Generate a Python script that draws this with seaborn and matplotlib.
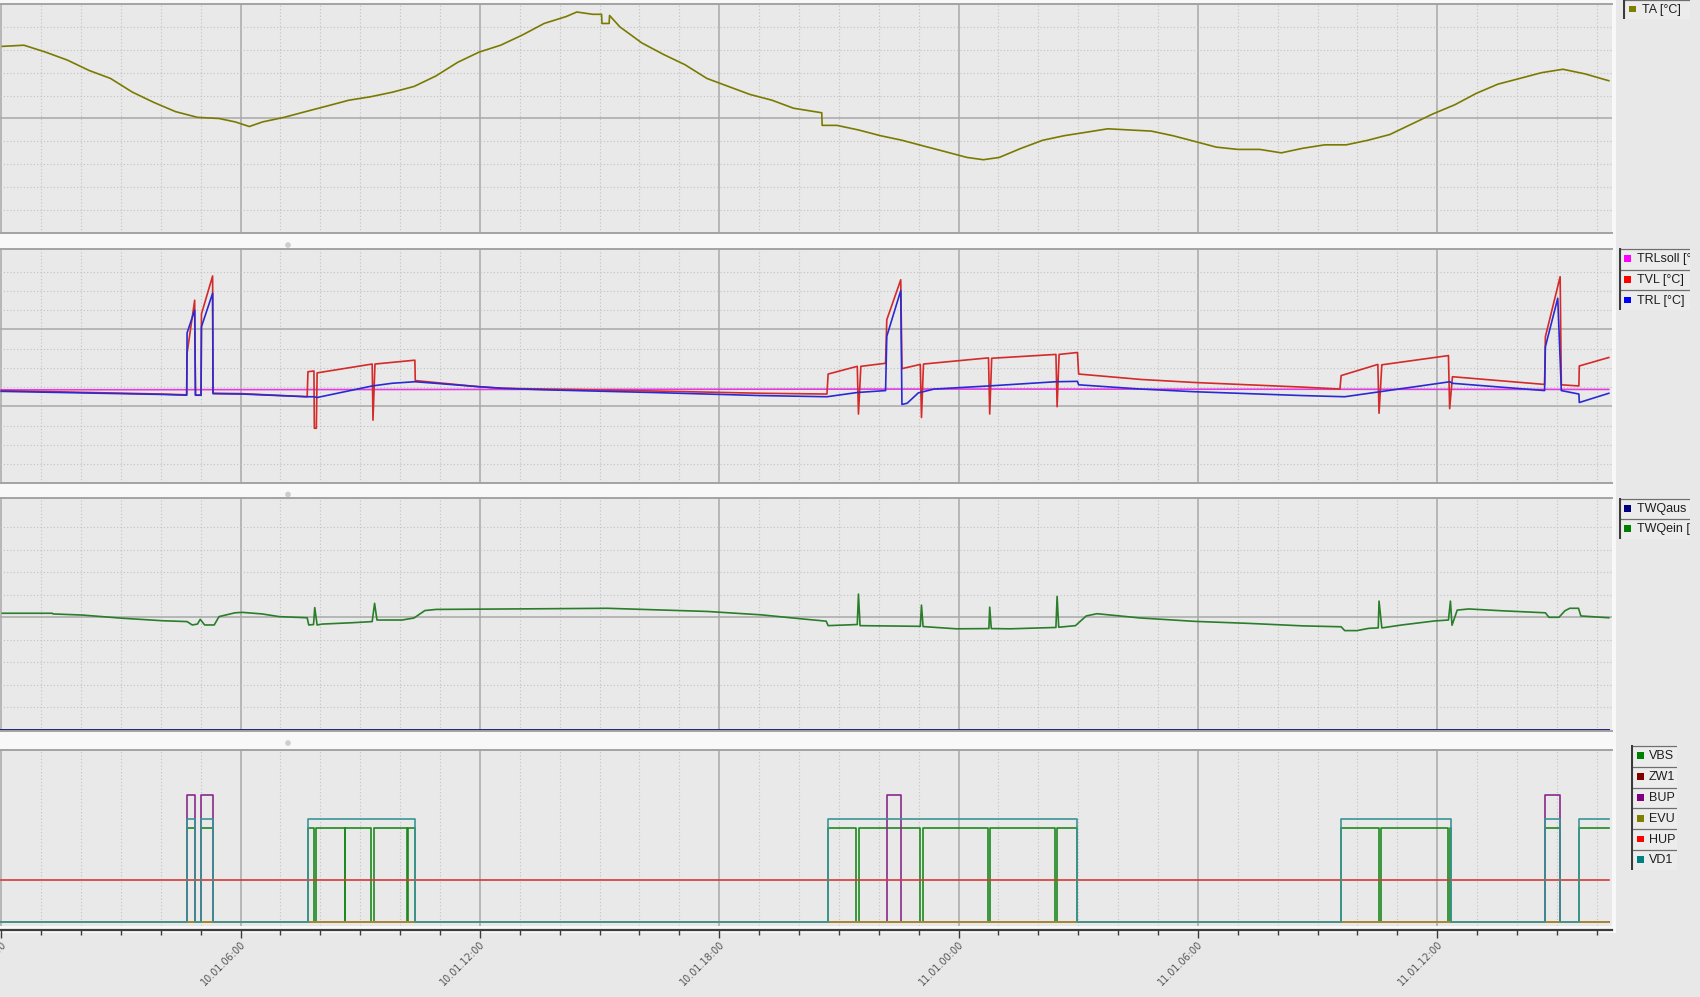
import numpy as np
import pandas as pd
import matplotlib
matplotlib.use("Agg")
import matplotlib.pyplot as plt
import seaborn as sns
from matplotlib.patches import Rectangle, Circle
from matplotlib.ticker import MultipleLocator, FixedLocator, NullFormatter

W, H = 1700, 997

# ---------------- data (time in hours since 10.01 00:00) ----------------
tick_hours = [0, 6, 12, 18, 24, 30, 36]
tick_labels = ["10.01.00:00", "10.01.06:00", "10.01.12:00", "10.01.18:00",
               "11.01.00:00", "11.01.06:00", "11.01.12:00"]

# Panel 1: outdoor temperature
ta_t = [0.03, 0.57, 1.11, 1.66, 2.20, 2.74, 3.29, 3.83, 4.37, 4.92, 5.46, 5.87, 6.22, 6.55,
        7.09, 7.63, 8.18, 8.72, 9.26, 9.81, 10.35, 10.89, 11.44, 11.98, 12.52, 13.07, 13.61,
        14.16, 14.43, 14.83, 15.05, 15.06, 15.24, 15.25, 15.51, 16.06, 16.60, 17.14, 17.69,
        18.23, 18.77, 19.32, 19.86, 20.57, 20.58, 20.95, 21.49, 22.04, 22.58, 23.12, 23.67,
        24.21, 24.62, 25.02, 25.57, 26.11, 26.65, 27.20, 27.74, 28.28, 28.83, 29.37, 29.92,
        30.46, 31.00, 31.55, 32.09, 32.63, 33.18, 33.72, 34.26, 34.81, 35.35, 35.89, 36.44,
        36.98, 37.52, 38.07, 38.61, 39.15, 39.70, 40.30]
ta_v = [6.3, 6.4, 5.8, 5.1, 4.2, 3.5, 2.3, 1.4, 0.6, 0.1, 0.0, -0.3, -0.7, -0.3,
        0.1, 0.6, 1.1, 1.6, 1.9, 2.3, 2.8, 3.7, 4.9, 5.8, 6.4, 7.3, 8.3,
        8.9, 9.3, 9.1, 9.1, 8.3, 8.3, 9.0, 8.0, 6.6, 5.6, 4.7, 3.5,
        2.8, 2.1, 1.6, 0.9, 0.5, -0.6, -0.6, -1.0, -1.5, -1.9, -2.4, -2.9,
        -3.4, -3.6, -3.4, -2.6, -1.9, -1.5, -1.2, -0.9, -1.0, -1.1, -1.5, -2.0,
        -2.5, -2.7, -2.7, -3.0, -2.6, -2.3, -2.3, -1.9, -1.4, -0.5, 0.4, 1.2,
        2.2, 3.0, 3.5, 4.0, 4.3, 3.9, 3.3]

# Panel 2: heating circuit temperatures
trlsoll_t = [0.0, 12.0, 24.0, 40.30]
trlsoll_v = [24.3, 24.4, 24.5, 24.4]

tvl_t = [0.0, 4.03, 4.65, 4.66, 4.85, 4.87, 5.01, 5.02, 5.30, 5.31, 6.04, 7.67,
         7.69, 7.84, 7.85, 7.90, 7.92, 9.30, 9.32, 9.37, 10.37, 10.38, 10.88, 11.98, 12.56,
         13.61, 16.33, 19.05, 20.70,
         20.73, 21.46, 21.49, 21.55, 22.17, 22.20, 22.55, 22.58, 23.04, 23.07, 23.12, 24.75,
         24.78, 24.83, 26.44, 26.47, 26.52, 26.98, 27.01, 28.56, 29.92, 31.27, 32.63, 33.56,
         33.59, 34.51, 34.54, 34.61, 36.28, 36.31, 36.38, 38.69, 38.71, 39.08, 39.11, 39.55,
         39.56, 40.30]
tvl_v = [24.1, 23.2, 23.0, 33.8, 47.6, 22.9, 22.9, 44.0, 53.9, 23.4, 23.3, 22.5,
         29.0, 29.2, 14.3, 14.3, 28.7, 31.0, 16.4, 31.0, 32.0, 26.7, 26.2, 25.1, 24.7,
         24.5, 24.0, 23.4, 23.2,
         28.4, 30.4, 18.0, 30.4, 31.2, 42.5, 52.9, 29.8, 30.9, 17.1, 31.0, 32.6,
         18.0, 32.5, 33.5, 19.9, 33.5, 34.0, 28.4, 27.0, 26.2, 25.6, 25.0, 24.5,
         28.0, 30.9, 18.2, 30.8, 33.2, 19.4, 27.7, 25.7, 38.1, 53.7, 25.6, 25.3,
         30.5, 32.7]

trl_t = [0.0, 4.03, 4.65, 4.66, 4.85, 4.87, 5.01, 5.02, 5.30, 5.31, 6.04, 7.67, 7.84, 7.92,
         9.30, 9.80, 10.37, 10.88, 11.98, 12.56, 13.61, 16.33, 19.05, 20.70, 21.46, 22.17,
         22.20, 22.55, 22.58, 22.71, 22.99, 23.39, 24.75, 26.44, 26.98, 27.01, 28.56, 29.92,
         32.63, 33.68, 36.32, 36.37, 38.69, 38.71, 39.02, 39.11, 39.55, 39.56, 40.30]
trl_v = [23.9, 23.1, 22.9, 39.1, 45.0, 22.9, 22.9, 40.7, 49.4, 23.3, 23.2, 22.5, 22.5, 22.3,
         25.3, 26.0, 26.4, 26.0, 25.1, 24.7, 24.3, 23.6, 22.8, 22.5, 23.6, 24.1,
         38.2, 50.1, 20.5, 20.8, 23.5, 24.5, 25.3, 26.4, 26.5, 25.6, 24.5, 23.8,
         22.8, 22.5, 26.4, 26.0, 24.1, 35.5, 48.1, 24.1, 23.2, 21.0, 23.4]

# Panel 3: hot water temperatures
twqaus_t = [0.0, 40.30]
twqaus_v = [0.0, 0.0]
twqein_t = [0.03, 1.28, 1.30, 2.03, 3.03, 4.03, 4.66, 4.79, 4.92, 4.99, 5.10, 5.34, 5.46,
            5.86, 6.04, 6.54, 6.97, 7.67, 7.71, 7.83, 7.86, 7.92, 8.05, 8.80, 9.30, 9.36,
            9.42, 10.05, 10.35, 10.62, 10.90, 13.60, 15.20, 17.70, 19.05, 20.13, 20.68,
            20.73, 21.46, 21.49, 21.53, 23.04, 23.07, 23.11, 23.94, 24.76, 24.78, 24.82,
            25.30, 26.44, 26.47, 26.51, 26.93, 27.20, 27.47, 28.56, 29.92, 31.28, 32.63,
            33.59, 33.68, 33.99, 34.28, 34.52, 34.54, 34.61, 35.11, 35.94, 36.28, 36.33,
            36.36, 36.37, 36.50, 36.79, 37.62, 38.71, 38.80, 39.05, 39.20, 39.32, 39.54,
            39.60, 40.30]
twqein_v = [51.8, 51.8, 51.5, 51.0, 49.6, 48.5, 48.1, 46.6, 47.0, 49.1, 46.6, 46.6, 50.3,
            52.0, 52.2, 51.5, 50.3, 49.8, 46.6, 46.8, 54.3, 46.6, 47.0, 47.6, 48.1, 56.2,
            48.8, 48.8, 49.7, 53.0, 53.5, 53.8, 54.0, 52.6, 51.1, 49.2, 48.3,
            46.3, 46.8, 60.3, 46.3, 46.0, 55.4, 45.9, 44.9, 45.0, 54.5, 45.0,
            44.9, 45.5, 59.3, 45.6, 46.3, 50.6, 51.6, 49.7, 48.2, 47.3, 46.2,
            45.8, 44.1, 44.1, 45.1, 45.3, 57.2, 45.3, 46.6, 48.4, 48.8, 57.2,
            48.8, 46.5, 53.2, 53.7, 52.9, 52.0, 50.0, 50.0, 52.9, 54.0, 54.0,
            50.6, 49.8]

# Panel 4: on/off signals (on-intervals in hours) and their drawn levels
sig_names = ["VBS", "ZW1", "BUP", "EVU", "HUP", "VD1"]
vbs_on = [(4.66, 4.87), (5.02, 5.32), (7.69, 7.84), (7.89, 8.61), (8.63, 9.28), (9.35, 10.18),
          (10.20, 10.37), (20.73, 21.44), (21.51, 23.04), (23.10, 24.74), (24.79, 26.41),
          (26.47, 26.98), (33.59, 34.53), (34.60, 36.28), (36.33, 36.35), (38.71, 39.08),
          (39.56, 40.30)]
zw1_on = []
bup_on = [(4.66, 4.87), (5.02, 5.32), (22.20, 22.55), (38.71, 39.08)]
evu_on = []
hup_on = [(0.0, 40.30)]
vd1_on = [(4.66, 4.87), (5.02, 5.32), (7.69, 10.37), (20.73, 26.98), (33.59, 36.35),
          (38.71, 39.08), (39.56, 40.30)]
sig_levels = [9.2, 0.0, 12.4, 0.0, 4.1, 10.0]

T_START, T_END = 0.0, 40.30

# ---------------- styling ----------------
FIG_BG = "#e8e8e8"
AX_BG = "#e9e9e9"
FRAME = "#f8f8f8"
MAJ_GRID = "#a9a9a9"
MIN_GRID = "#c2c2c2"
BORDER = "#a3a3a3"

leg1 = (["TA [°C]"], ["#808000"])
leg2 = (["TRLsoll [°C]", "TVL [°C]", "TRL [°C]"], ["#ff00ff", "#ff0000", "#0000ff"])
leg3 = (["TWQaus [°C]", "TWQein [°C]"], ["#000080", "#008000"])
leg4 = (sig_names, ["#008000", "#800000", "#800080", "#808000", "#ff0000", "#008080"])
sig_line_colors = ["#1f8a1f", "#800000", "#8a2a8a", "#a89c30", "#d43a3a", "#3a9494"]

plt.rcParams["font.family"] = ["DejaVu Sans"]
fig = plt.figure(figsize=(W / 100, H / 100), dpi=100, facecolor=FIG_BG)

# white frame behind the panels
ov = fig.add_axes([0, 0, 1, 1])
ov.set_xlim(0, W)
ov.set_ylim(H, 0)
ov.axis("off")
ov.set_zorder(-10)
ov.add_patch(Rectangle((0, 0), 1616, 933, fc=FRAME, ec="none"))
for yy in [245, 494.5, 743]:
    ov.add_patch(Circle((288, yy), 2.8, fc="#cdcdcd", ec="none"))


def px_axes(top, bottom, left=0, right=1612):
    return fig.add_axes([left / W, 1 - bottom / H, (right - left) / W, (bottom - top) / H])


XL = (-0.03, 40.38)


def style_panel(ax, ylim, ymaj, ymin, hgrid=True):
    ax.set_facecolor(AX_BG)
    ax.set_xlim(*XL)
    ax.set_ylim(*ylim)
    ax.xaxis.set_major_locator(FixedLocator(tick_hours))
    ax.xaxis.set_minor_locator(MultipleLocator(1))
    ax.yaxis.set_major_locator(FixedLocator(ymaj))
    ax.yaxis.set_minor_locator(FixedLocator(ymin))
    ax.grid(which="major", axis="x", color=MAJ_GRID, lw=1.1, ls="-")
    ax.grid(which="minor", axis="x", color=MIN_GRID, lw=0.8, ls=(0, (1, 2)))
    if hgrid:
        ax.grid(which="major", axis="y", color=MAJ_GRID, lw=1.1, ls="-")
        ax.grid(which="minor", axis="y", color=MIN_GRID, lw=0.8, ls=(0, (1, 2)))
    ax.set_axisbelow(True)
    ax.tick_params(axis="both", which="both", length=0, labelleft=False, labelbottom=False)
    for s in ["left", "right"]:
        ax.spines[s].set_visible(False)
    for s in ["top", "bottom"]:
        ax.spines[s].set_color(BORDER)
        ax.spines[s].set_linewidth(1.4)
    ax.set_xlabel("")
    ax.set_ylabel("")


# ---- panel 1 ----
ax1 = px_axes(4, 233)
sns.lineplot(x=ta_t, y=ta_v, ax=ax1, color="#7a7a00", lw=1.2, estimator=None, sort=False)
style_panel(ax1, (-10, 10), [0], [-8, -6, -4, -2, 2, 4, 6, 8])

# ---- panel 2 ----
ax2 = px_axes(249, 483.3)
sns.lineplot(x=trlsoll_t, y=trlsoll_v, ax=ax2, color="#e03ce0", lw=1.2, estimator=None, sort=False)
sns.lineplot(x=tvl_t, y=tvl_v, ax=ax2, color="#d42a2a", lw=1.2, estimator=None, sort=False)
sns.lineplot(x=trl_t, y=trl_v, ax=ax2, color="#2a2ad4", lw=1.2, estimator=None, sort=False)
style_panel(ax2, (0, 60.9), [20, 40], [5, 10, 15, 25, 30, 35, 45, 50, 55])

# ---- panel 3 ----
ax3 = px_axes(498.3, 731)
sns.lineplot(x=twqaus_t, y=twqaus_v, ax=ax3, color="#23237a", lw=1.4, estimator=None, sort=False)
sns.lineplot(x=twqein_t, y=twqein_v, ax=ax3, color="#2a7d2a", lw=1.2, estimator=None, sort=False)
style_panel(ax3, (-0.44, 102.8), [50], [10, 20, 30, 40, 60, 70, 80, 90])


# ---- panel 4 ----
def step_series(on, level, t0, t1):
    xs, ys = [], []
    if not on or on[0][0] > t0:
        xs.append(t0)
        ys.append(0.0)
    for a, b in on:
        if a > t0:
            xs += [a, a]
            ys += [0.0, level]
        else:
            xs.append(t0)
            ys.append(level)
        if b < t1:
            xs += [b, b]
            ys += [level, 0.0]
        else:
            xs.append(t1)
            ys.append(level)
    if not on or on[-1][1] < t1:
        xs.append(t1)
        ys.append(0.0)
    return xs, ys


ax4 = px_axes(750, 926)
sig_on = [vbs_on, zw1_on, bup_on, evu_on, hup_on, vd1_on]
for name, on, lvl, col in zip(sig_names, sig_on, sig_levels, sig_line_colors):
    sx, sy = step_series(on, lvl, T_START, T_END)
    sns.lineplot(x=sx, y=sy, ax=ax4, color=col, lw=1.2, estimator=None, sort=False)
style_panel(ax4, (-0.34, 16.72), [], [], hgrid=False)
ax4.spines["bottom"].set_position(("outward", 3.2))
ax4.spines["bottom"].set_color("#3c3c3c")
ax4.spines["bottom"].set_linewidth(1.6)
ax4.set_xticks(tick_hours)
ax4.set_xticklabels(tick_labels, rotation=45, ha="right", va="top", rotation_mode="anchor")
ax4.xaxis.set_minor_formatter(NullFormatter())
ax4.tick_params(axis="x", which="major", length=5.8, width=1.0, color="#3c3c3c",
                labelbottom=True, labelsize=7, labelcolor="#555555", pad=0.5)
ax4.tick_params(axis="x", which="minor", length=3.4, width=1.0, color="#3c3c3c")
ax4.set_xlim(*XL)


# ---------------- legends (drawn in pixel coordinates) ----------------
def draw_legend(x0, y0, x1, row_h, labels, colors, sq_x, text_x, fs=9.0):
    n = len(labels)
    hh = row_h * n + 1
    lax = fig.add_axes([x0 / W, 1 - (y0 + hh) / H, (x1 - x0) / W, hh / H])
    lax.set_xlim(x0, x1)
    lax.set_ylim(y0 + hh, y0)
    lax.axis("off")
    lax.add_patch(Rectangle((x0, y0), x1 - x0, row_h * n, fc="#ececec", ec="none"))
    for i, (lab, col) in enumerate(zip(labels, colors)):
        yt = y0 + i * row_h
        yc = yt + row_h / 2
        lax.plot([x0, x1], [yt + 0.5, yt + 0.5], color="#6e6e6e", lw=0.9, solid_capstyle="butt")
        lax.add_patch(Rectangle((sq_x, yc - 3.4), 6.8, 6.8, fc=col, ec="none"))
        lax.text(text_x, yc + 0.5, lab, ha="left", va="center", fontsize=fs,
                 family=["Liberation Sans", "DejaVu Sans"], color="#1e1e1e", clip_on=True)
    lax.plot([x0 + 0.8, x0 + 0.8], [y0, y0 + row_h * n], color="#3a3a3a", lw=1.5,
             solid_capstyle="butt")
    return lax


draw_legend(1623, -1, 1690, 20.0, leg1[0], leg1[1], 1629, 1641.7)
draw_legend(1619.3, 248.3, 1690, 20.7, leg2[0], leg2[1], 1624.2, 1637.3)
draw_legend(1619.3, 498.3, 1690, 20.2, leg3[0], leg3[1], 1624.2, 1637.3)
draw_legend(1630.7, 745.5, 1677, 20.8, leg4[0], leg4[1], 1636.7, 1649)

fig.savefig("out.png", dpi=100, facecolor=FIG_BG)
